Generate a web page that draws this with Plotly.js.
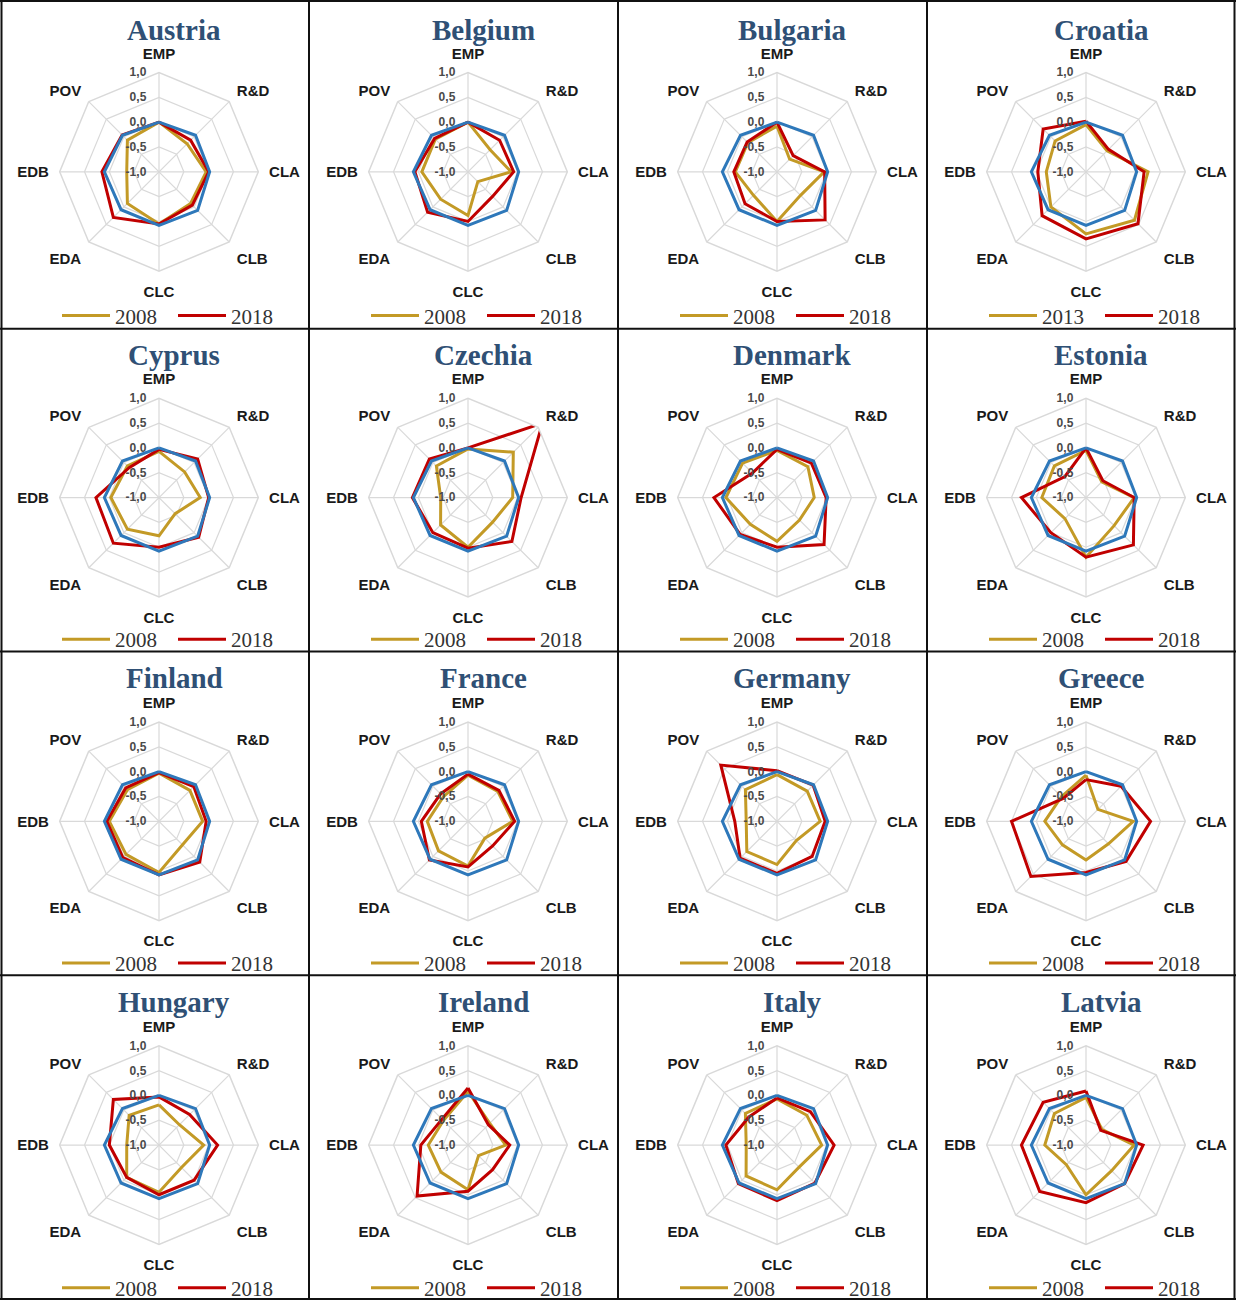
<!DOCTYPE html>
<html><head><meta charset="utf-8">
<script src="https://cdn.plot.ly/plotly-3.0.1.min.js"></script>
<style>html,body{margin:0;padding:0;background:#fff}#chart{width:1236px;height:1309px}</style>
</head><body><div id="chart"></div>
<script>
// ---------- DATA ----------
const categories = ['EMP','R&D','CLA','CLB','CLC','EDA','EDB','POV'];
const radialTicks = [-1, -0.5, 0, 0.5, 1];
const radialTickLabels = ['-1,0', '-0,5', '0,0', '0,5', '1,0'];
const countries = ['Austria','Belgium','Bulgaria','Croatia','Cyprus','Czechia','Denmark','Estonia',
                   'Finland','France','Germany','Greece','Hungary','Ireland','Italy','Latvia'];
const baseYears = ['2008','2008','2008','2013','2008','2008','2008','2008',
                   '2008','2008','2008','2008','2008','2008','2008','2008'];
const latestYear = '2018';
const euAverage = [0.0, 0.04, 0.02, 0.1, 0.08, 0.08, 0.1, 0.04];

const austriaBase   = [0.0, -0.2, -0.05, -0.1, 0.05, -0.1, -0.35, -0.1];
const austriaLatest = [0.0, -0.1, 0.0, -0.05, 0.05, 0.3, 0.15, 0.05];
const belgiumBase   = [0.0, -0.37, -0.13, -0.72, -0.12, -0.22, -0.07, -0.07];
const belgiumLatest = [0.0, -0.1, -0.08, -0.3, 0.0, 0.15, 0.07, -0.05];
const bulgariaBase   = [-0.08, -0.64, -0.05, -0.33, 0.0, -0.33, -0.16, -0.17];
const bulgariaLatest = [0.0, -0.54, -0.04, 0.37, 0.0, -0.09, -0.13, -0.15];
const croatiaBase   = [-0.05, -0.4, 0.25, 0.38, 0.25, 0.0, -0.2, -0.12];
const croatiaLatest = [0.02, -0.36, 0.17, 0.48, 0.35, 0.25, -0.03, 0.22];
const cyprusBase   = [-0.07, -0.27, -0.17, -0.54, -0.23, -0.1, -0.03, -0.1];
const cyprusLatest = [-0.03, 0.1, 0.0, 0.13, 0.0, 0.3, 0.27, -0.15];
const czechiaBase   = [-0.02, 0.29, -0.1, -0.3, 0.0, -0.22, -0.45, -0.1];
const czechiaLatest = [0.0, 1.12, 0.07, 0.25, 0.02, 0.0, 0.12, 0.1];
const denmarkBase   = [-0.05, -0.12, -0.25, -0.36, -0.12, -0.24, 0.03, -0.02];
const denmarkLatest = [-0.03, -0.02, -0.01, 0.34, 0.0, 0.05, 0.27, -0.3];
const estoniaBase   = [-0.05, -0.55, -0.03, -0.2, 0.2, -0.4, -0.11, -0.1];
const estoniaLatest = [0.0, -0.52, -0.03, 0.35, 0.2, 0.0, 0.3, -0.4];
const finlandBase   = [-0.03, -0.12, -0.12, -0.33, 0.03, -0.06, 0.0, -0.1];
const finlandLatest = [-0.02, -0.01, -0.05, 0.16, 0.08, 0.03, 0.05, -0.05];
const franceBase   = [-0.07, -0.15, -0.1, -0.52, -0.1, -0.16, -0.18, -0.3];
const franceLatest = [-0.05, -0.12, -0.06, -0.3, -0.08, 0.1, -0.06, -0.22];
const germanyBase   = [-0.06, -0.14, -0.13, -0.45, -0.13, -0.14, -0.38, -0.1];
const germanyLatest = [0.02, 0.03, -0.03, 0.0, 0.05, 0.05, -0.15, 0.6];
const greeceBase   = [-0.07, -0.66, -0.05, -0.36, -0.22, -0.33, -0.17, -0.3];
const greeceLatest = [-0.16, 0.0, 0.3, 0.14, 0.03, 0.57, 0.5, -0.35];
const hungaryBase   = [-0.19, -0.42, -0.1, -0.36, -0.05, -0.08, -0.35, -0.15];
const hungaryLatest = [-0.03, -0.13, 0.18, 0.0, 0.0, -0.08, 0.0, 0.3];
const irelandBase   = [0.08, -0.38, -0.24, -0.7, -0.1, -0.23, -0.2, -0.3];
const irelandLatest = [0.15, -0.42, -0.16, -0.3, -0.07, 0.45, -0.05, -0.26];
const italyBase   = [-0.07, -0.15, -0.1, -0.37, -0.1, -0.12, -0.38, -0.1];
const italyLatest = [-0.05, -0.05, 0.15, 0.08, 0.12, 0.1, 0.03, -0.2];
const latviaBase   = [-0.04, -0.55, -0.03, -0.27, 0.0, -0.44, -0.17, -0.1];
const latviaLatest = [0.09, -0.58, 0.15, 0.1, 0.16, 0.32, 0.3, 0.22];

const baseSeries = [austriaBase, belgiumBase, bulgariaBase, croatiaBase, cyprusBase, czechiaBase,
  denmarkBase, estoniaBase, finlandBase, franceBase, germanyBase, greeceBase, hungaryBase,
  irelandBase, italyBase, latviaBase];
const latestSeries = [austriaLatest, belgiumLatest, bulgariaLatest, croatiaLatest, cyprusLatest,
  czechiaLatest, denmarkLatest, estoniaLatest, finlandLatest, franceLatest, germanyLatest,
  greeceLatest, hungaryLatest, irelandLatest, italyLatest, latviaLatest];

// ---------- LAYOUT ----------
const W = 1236, H = 1309;
const colLeft = [0, 309, 618, 927];
const rowTop = [0, 331, 656, 982];
const rowCenter = [173, 170, 171, 171];
const rowLegend = [318, 313, 314, 315];
const rowTitle = [30, 26, 27, 27];
const R = 100;
const GOLD = '#C39A26', RED = '#C00000', BLUE = '#2E78BA', GRID = '#d9d9d9';
const close = a => a.concat([a[0]]);

const traces = [];
const layout = {
  width: W, height: H,
  margin: {l: 0, r: 0, t: 0, b: 0},
  paper_bgcolor: '#ffffff',
  showlegend: true,
  annotations: [],
  shapes: []
};

countries.forEach((name, i) => {
  const row = Math.floor(i / 4), col = i % 4;
  const cx = colLeft[col] + 159, cy = rowTop[row] + rowCenter[row];
  const pk = i === 0 ? 'polar' : 'polar' + (i + 1);
  const lk = i === 0 ? 'legend' : 'legend' + (i + 1);
  const theta = close(categories);
  traces.push({type: 'scatterpolar', subplot: pk, legend: lk, r: close(baseSeries[i]), theta,
    mode: 'lines', line: {color: GOLD, width: 3}, name: baseYears[i], showlegend: true, hoverinfo: 'skip'});
  traces.push({type: 'scatterpolar', subplot: pk, legend: lk, r: close(latestSeries[i]), theta,
    mode: 'lines', line: {color: RED, width: 3}, name: latestYear, showlegend: true, hoverinfo: 'skip'});
  traces.push({type: 'scatterpolar', subplot: pk, r: close(euAverage), theta,
    mode: 'lines', line: {color: BLUE, width: 3}, name: 'EU', showlegend: false, hoverinfo: 'skip'});

  layout[pk] = {
    domain: {x: [(cx - R) / W, (cx + R) / W], y: [1 - (cy + R) / H, 1 - (cy - R) / H]},
    bgcolor: 'rgba(0,0,0,0)',
    gridshape: 'linear',
    angularaxis: {
      type: 'category', categoryorder: 'array', categoryarray: categories,
      rotation: 90, direction: 'clockwise',
      showline: true, linecolor: GRID, linewidth: 1.5,
      showgrid: true, gridcolor: GRID, gridwidth: 1.2,
      ticks: 'outside', ticklen: 7, tickcolor: 'rgba(0,0,0,0)',
      tickfont: {family: 'Liberation Sans, Arial, sans-serif', size: 15, color: '#1a1a1a', weight: 'bold'}
    },
    radialaxis: {
      range: [-1, 1], tickvals: radialTicks, ticktext: radialTickLabels,
      angle: 90, side: 'counterclockwise', tickangle: 90,
      showline: false, ticks: 'outside', ticklen: 8, tickcolor: 'rgba(0,0,0,0)',
      showgrid: true, gridcolor: GRID, gridwidth: 1.2,
      tickfont: {family: 'Liberation Sans, Arial, sans-serif', size: 12, color: '#4a4a4a', weight: 'bold'}
    }
  };
  layout[lk] = {
    x: (cx + 14) / W, xanchor: 'center',
    y: 1 - (rowTop[row] + rowLegend[row]) / H, yanchor: 'middle',
    orientation: 'h', bgcolor: 'rgba(0,0,0,0)', borderwidth: 0,
    itemwidth: 48, entrywidth: 53, itemclick: false, itemdoubleclick: false,
    font: {family: 'Liberation Serif, Times New Roman, serif', size: 21, color: '#333333'}
  };
  layout.annotations.push({
    text: '<b>' + name + '</b>', showarrow: false,
    xref: 'paper', yref: 'paper',
    x: (cx + 15) / W, y: 1 - (rowTop[row] + rowTitle[row]) / H, xanchor: 'center', yanchor: 'middle',
    font: {family: 'Liberation Serif, Times New Roman, serif', size: 29, color: '#2F5075'}
  });
});

// cell borders
const vx = [1.5, 309, 618, 927, 1234.5];
const hy = [1, 331, 656, 982, 1308];
vx.forEach(x => layout.shapes.push({type: 'line', xref: 'paper', yref: 'paper',
  x0: x / W, x1: x / W, y0: 0, y1: 1, line: {color: '#111', width: 2}}));
hy.forEach(y => layout.shapes.push({type: 'line', xref: 'paper', yref: 'paper',
  x0: 0, x1: 1, y0: 1 - y / H, y1: 1 - y / H, line: {color: '#111', width: 2}}));

Plotly.newPlot('chart', traces, layout, {displayModeBar: false, staticPlot: true});
</script>
</body></html>
